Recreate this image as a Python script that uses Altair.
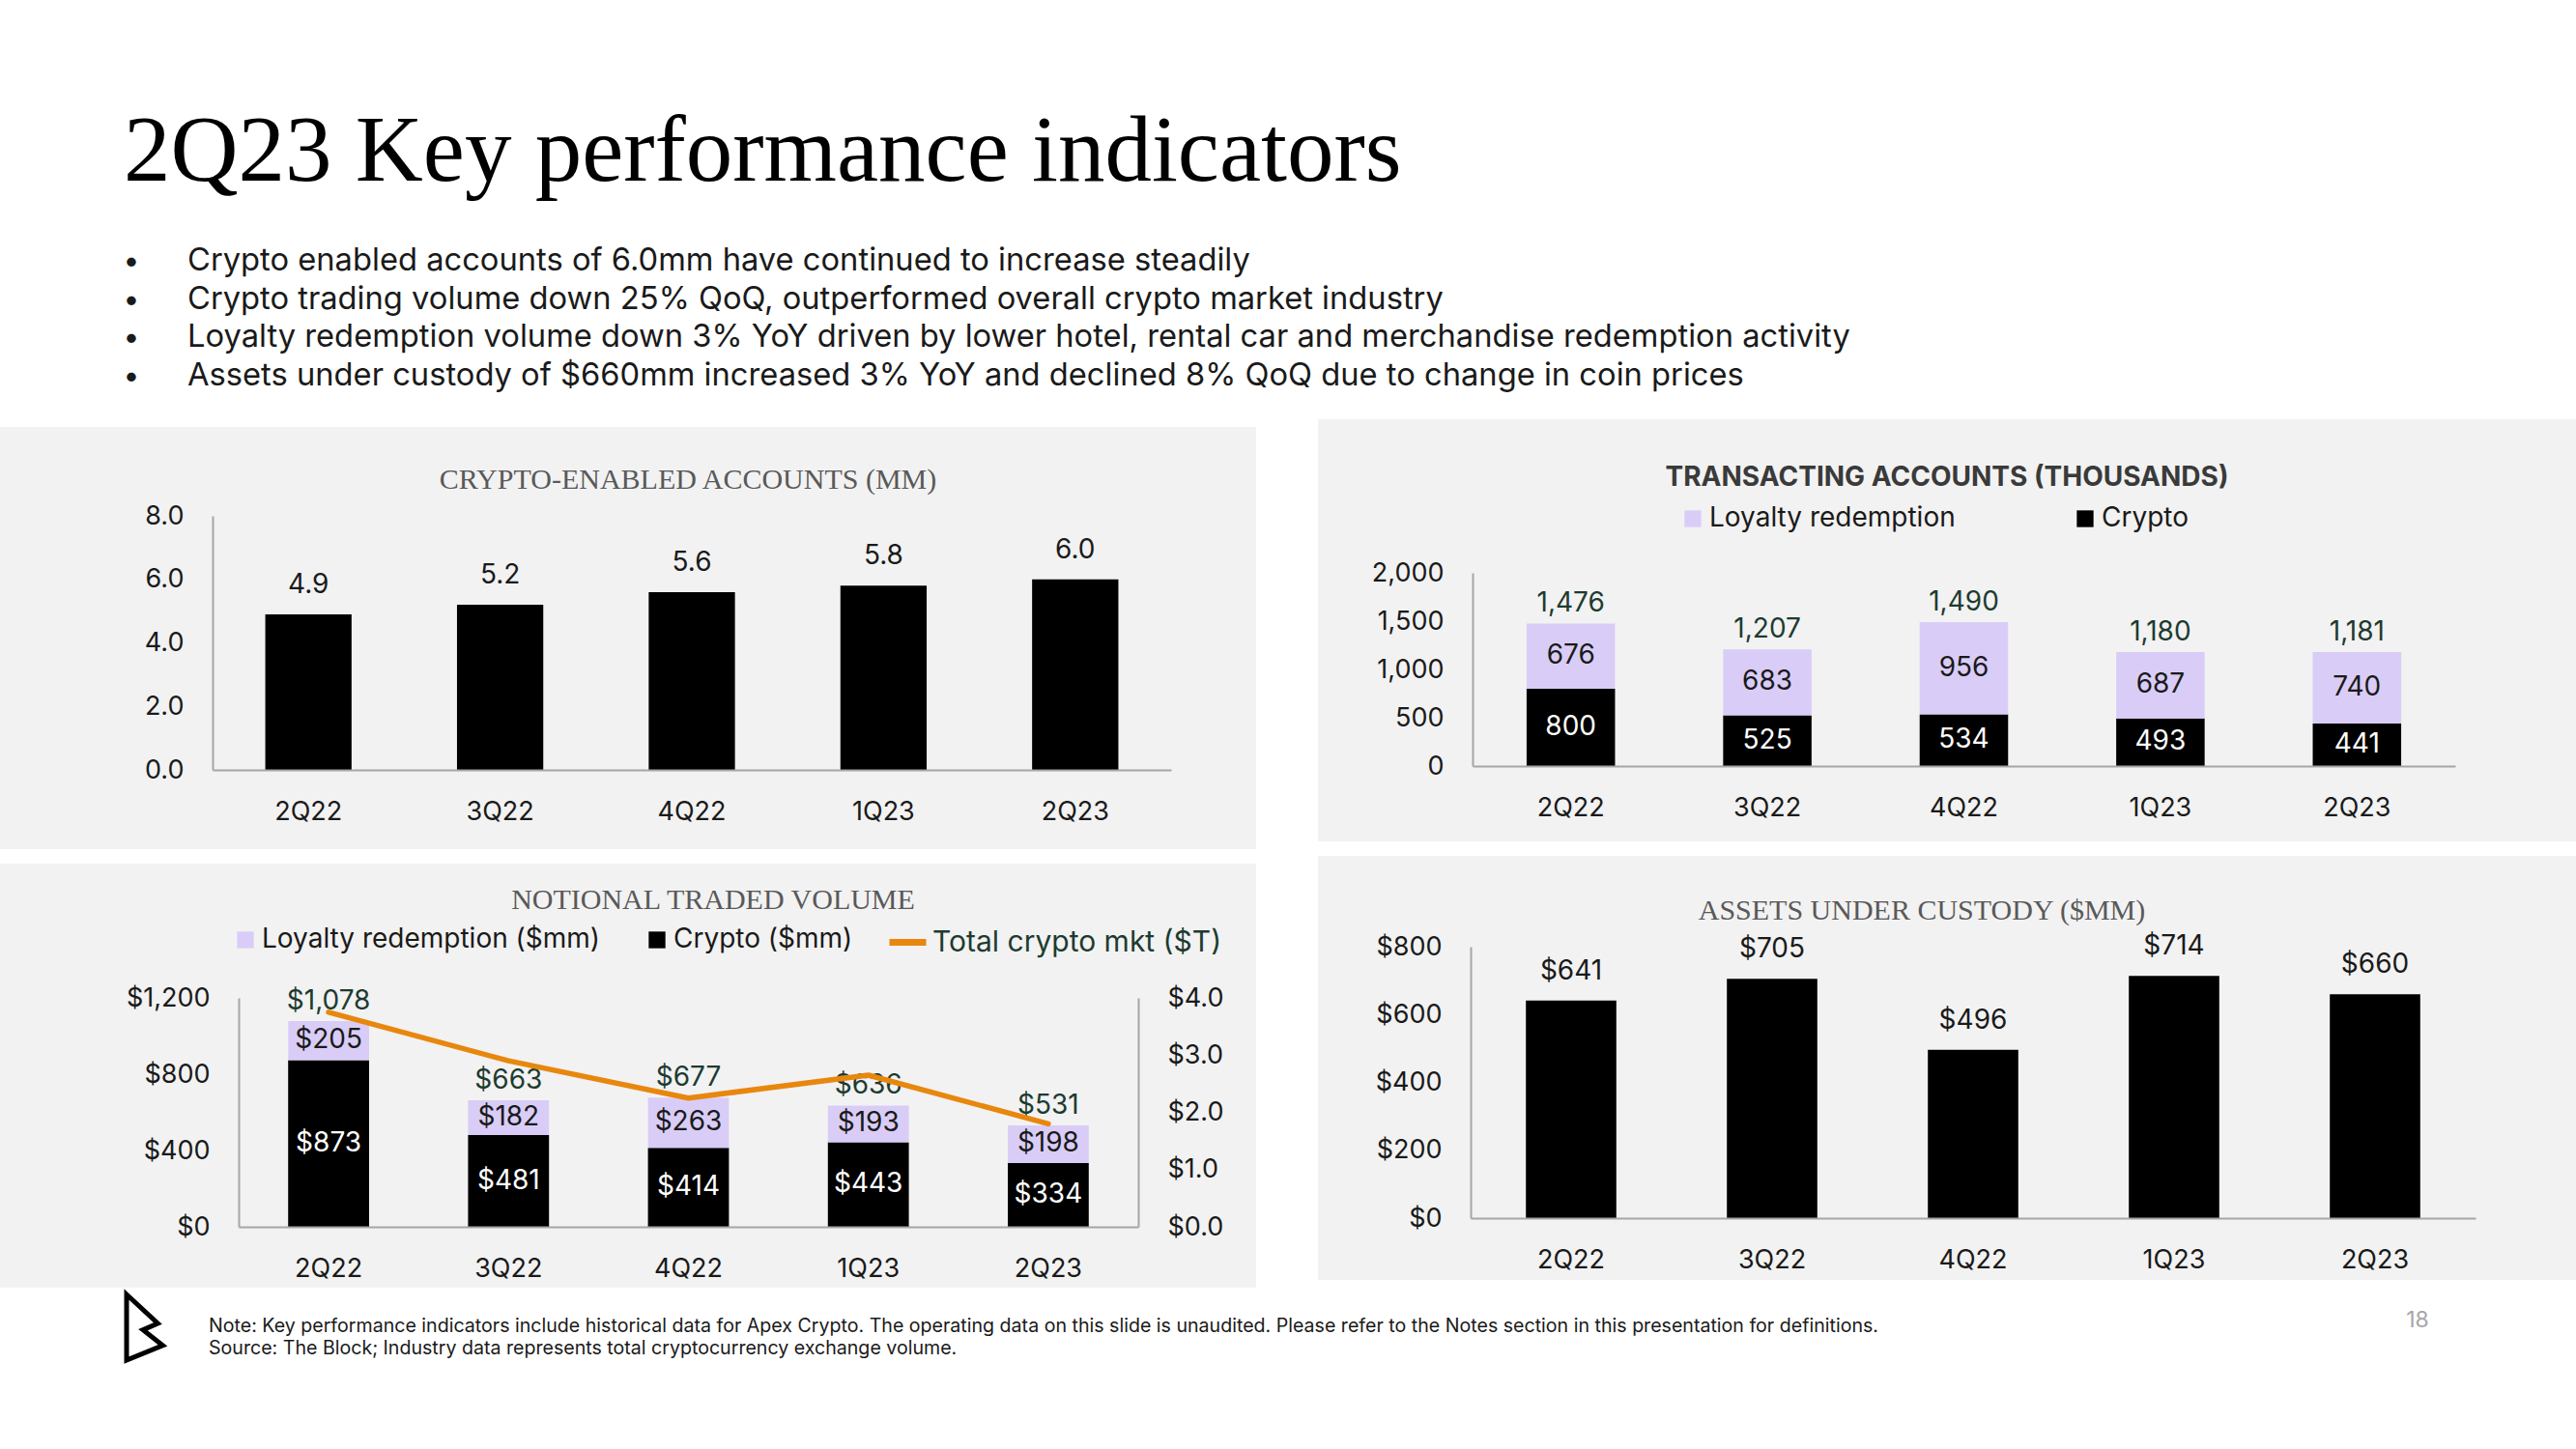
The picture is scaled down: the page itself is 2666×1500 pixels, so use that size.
import altair as alt
import pandas as pd

# ---------------- data ----------------
QUARTERS = ["2Q22", "3Q22", "4Q22", "1Q23", "2Q23"]
ENABLED_MM = [4.9, 5.2, 5.6, 5.8, 6.0]
TX_CRYPTO = [800, 525, 534, 493, 441]
TX_LOYALTY = [676, 683, 956, 687, 740]
TX_TOTAL = [1476, 1207, 1490, 1180, 1181]
NTV_CRYPTO = [873, 481, 414, 443, 334]
NTV_LOYALTY = [205, 182, 263, 193, 198]
NTV_TOTAL = [1078, 663, 677, 636, 531]
MKT_T = [3.75, 2.9, 2.25, 2.65, 1.8]
AUC = [641, 705, 496, 714, 660]

TITLE = "2Q23 Key performance indicators"
BULLETS = [
    "Crypto enabled accounts of 6.0mm have continued to increase steadily",
    "Crypto trading volume down 25% QoQ, outperformed overall crypto market industry",
    "Loyalty redemption volume down 3% YoY driven by lower hotel, rental car and merchandise redemption activity",
    "Assets under custody of $660mm increased 3% YoY and declined 8% QoQ due to change in coin prices",
]
NOTES = [
    "Note: Key performance indicators include historical data for Apex Crypto. The operating data on this slide is unaudited. Please refer to the Notes section in this presentation for definitions.",
    "Source: The Block; Industry data represents total cryptocurrency exchange volume.",
]
PAGE = "18"
P1_TITLE = "CRYPTO-ENABLED ACCOUNTS (MM)"
P2_TITLE = "TRANSACTING ACCOUNTS (THOUSANDS)"
P3_TITLE = "NOTIONAL TRADED VOLUME"
P4_TITLE = "ASSETS UNDER CUSTODY ($MM)"
TX_SEGS = ["Loyalty redemption", "Crypto"]
NTV_SEGS = ["Loyalty redemption ($mm)", "Crypto ($mm)"]
MKT_NAME = "Total crypto mkt ($T)"

# ---------------- style ----------------
SANS = "Inter"
SERIF = "Liberation Serif"
INK = "#1a1a1a"
AXIS_GRAY = "#a6a6a6"
PANEL = "#f2f2f2"
LAV = "#d9cdf7"
ORANGE = "#e8870e"
GREEN = "#1d3b30"
TGRAY = "#595959"
TICK_FS = 27
DATA_FS = 28


def one():
    return pd.DataFrame({"k": [0]})


def rect(x0, x1, y0, y1, color):
    return alt.Chart(one()).mark_rect(color=color).encode(
        x=alt.value(x0), x2=alt.value(x1), y=alt.value(y0), y2=alt.value(y1))


def label(txt, x, y, **kw):
    return alt.Chart(one()).mark_text(**kw).encode(
        x=alt.value(x), y=alt.value(y), text=alt.value(txt))


def x_axis(offset):
    return alt.Axis(orient="bottom", offset=offset, title=None, ticks=False, grid=False,
                    labelAngle=0, labelPadding=30, labelFont=SANS, labelFontSize=TICK_FS,
                    labelColor=INK, domainColor=AXIS_GRAY, domainWidth=2, zindex=1)


def y_axis(offset, values, fmt, orient="left"):
    return alt.Axis(orient=orient, offset=offset, title=None, ticks=False, grid=False,
                    values=values, format=fmt, labelPadding=30, labelFont=SANS,
                    labelFontSize=TICK_FS, labelColor=INK, domainColor=AXIS_GRAY,
                    domainWidth=2, zindex=1)


def xs(r0, r1):
    return alt.Scale(domain=QUARTERS, range=[r0, r1], paddingInner=0.55, paddingOuter=0.275)


def ys(domain, bottom, top):
    return alt.Scale(domain=domain, range=[bottom, top], nice=False, zero=True)


def seg_legend(x, y, gap):
    return alt.Legend(orient="none", legendX=x, legendY=y, direction="horizontal", title=None,
                      symbolType="square", symbolSize=300, symbolStrokeWidth=0,
                      labelFont=SANS, labelFontSize=28, labelColor=INK, labelOffset=3,
                      labelLimit=600, columnPadding=gap, padding=0)


W_L, W_R, H_TOP, H_BOT = 1300, 1302, 437, 439
OY1 = 442  # canvas y of top-left panel origin

# ---------------- panel 1: crypto-enabled accounts ----------------
df1 = pd.DataFrame({"q": QUARTERS, "v": ENABLED_MM})
base1 = alt.Chart(df1).encode(
    x=alt.X("q:N", sort=QUARTERS, scale=xs(220, 1212), axis=x_axis(-82)),
    y=alt.Y("v:Q", scale=ys([0, 8], 355, 92), axis=y_axis(-220, [0, 2, 4, 6, 8], ".1f")),
)
bars1 = base1.mark_bar(color="black")
lab1 = base1.mark_text(dy=-30, font=SANS, fontSize=DATA_FS, color=INK).encode(
    text=alt.Text("v:Q", format=".1f"))

logo_path = "M -0.5 -1 L 0.45 -0.12 L 0.0 0.08 L 0.6 0.55 L -0.5 1 Z"

p1 = alt.layer(
    rect(0, 2666, -OY1, 1500 - OY1, "white"),
    rect(0, W_L, 0, H_TOP, PANEL),
    label(TITLE, 128, 187 - OY1, font=SERIF, fontSize=97, align="left",
          baseline="alphabetic", color="black"),
    label(["\u2022"] * 4, 136, 280 - OY1, font=SANS, fontSize=30, align="center",
          baseline="alphabetic", lineHeight=39.5, color=INK),
    label(BULLETS, 194, 280 - OY1, font=SANS, fontSize=32.7, align="left",
          baseline="alphabetic", lineHeight=39.5, color=INK),
    label(NOTES, 216, 1379 - OY1, font=SANS, fontSize=19.6, align="left",
          baseline="alphabetic", lineHeight=23, color=INK),
    label(PAGE, 2502, 1367 - OY1, font=SANS, fontSize=23, align="center",
          baseline="middle", color="#a6a6a6"),
    alt.Chart(one()).mark_point(shape=logo_path, filled=False, size=4624, strokeWidth=5,
                                color="black", opacity=1).encode(
        x=alt.value(148), y=alt.value(1374 - OY1)),
    label(P1_TITLE, 712, 55, font=SERIF, fontSize=30, align="center", baseline="middle",
          color=TGRAY),
    bars1,
    lab1,
).properties(width=W_L, height=H_TOP)

# ---------------- panel 2: transacting accounts ----------------
rows2 = []
for q, c, l in zip(QUARTERS, TX_CRYPTO, TX_LOYALTY):
    rows2.append({"q": q, "seg": TX_SEGS[1], "v": c, "ord": 0})
    rows2.append({"q": q, "seg": TX_SEGS[0], "v": l, "ord": 1})
df2 = pd.DataFrame(rows2)
stk2 = alt.Chart(df2).transform_stack(
    stack="v", as_=["y0", "y1"], groupby=["q"], sort=[alt.SortField("ord", order="ascending")]
).transform_calculate(ym="(datum.y0 + datum.y1) / 2")
x2 = alt.X("q:N", sort=QUARTERS, scale=xs(160, 1177), axis=x_axis(-86))
y2s = ys([0, 2000], 351, 151)
y2ax = y_axis(-160, [0, 500, 1000, 1500, 2000], ",.0f")
bars2 = stk2.mark_bar().encode(
    x=x2,
    y=alt.Y("y0:Q", scale=y2s, axis=y2ax),
    y2="y1:Q",
    fill=alt.Fill("seg:N", scale=alt.Scale(domain=TX_SEGS, range=[LAV, "black"]),
                  legend=seg_legend(374, 81, 120)),
)
seg2 = stk2.mark_text(font=SANS, fontSize=DATA_FS).encode(
    x=x2, y=alt.Y("ym:Q", scale=y2s, axis=y2ax),
    text=alt.Text("v:Q", format=",.0f"),
    color=alt.Color("seg:N", scale=alt.Scale(domain=TX_SEGS, range=[INK, "white"]), legend=None),
)
dft2 = pd.DataFrame({"q": QUARTERS, "t": TX_TOTAL})
tot2 = alt.Chart(dft2).mark_text(dy=-20, font=SANS, fontSize=DATA_FS, color=GREEN).encode(
    x=x2, y=alt.Y("t:Q", scale=y2s, axis=y2ax), text=alt.Text("t:Q", format=",.0f"))

p2 = alt.layer(
    rect(0, W_R, -8, H_TOP - 8, PANEL),
    label(P2_TITLE, 651, 53, font=SANS, fontSize=28, fontWeight="bold", align="center",
          baseline="middle", color="#3a3a3a"),
    alt.layer(bars2, seg2, tot2),
).properties(width=W_R, height=H_TOP)

# ---------------- panel 3: notional traded volume ----------------
rows3 = []
for q, c, l in zip(QUARTERS, NTV_CRYPTO, NTV_LOYALTY):
    rows3.append({"q": q, "seg": NTV_SEGS[1], "v": c, "ord": 0})
    rows3.append({"q": q, "seg": NTV_SEGS[0], "v": l, "ord": 1})
df3 = pd.DataFrame(rows3)
stk3 = alt.Chart(df3).transform_stack(
    stack="v", as_=["y0", "y1"], groupby=["q"], sort=[alt.SortField("ord", order="ascending")]
).transform_calculate(ym="(datum.y0 + datum.y1) / 2")
x3 = alt.X("q:N", sort=QUARTERS, scale=xs(247, 1178), axis=x_axis(-63))
y3s = ys([0, 1200], 376, 139)
y3ax = y_axis(-247, [0, 400, 800, 1200], "$,.0f")
bars3 = stk3.mark_bar().encode(
    x=x3,
    y=alt.Y("y0:Q", scale=y3s, axis=y3ax),
    y2="y1:Q",
    fill=alt.Fill("seg:N", scale=alt.Scale(domain=NTV_SEGS, range=[LAV, "black"]),
                  legend=seg_legend(240, 65, 44)),
)
seg3 = stk3.mark_text(font=SANS, fontSize=DATA_FS).encode(
    x=x3, y=alt.Y("ym:Q", scale=y3s, axis=y3ax),
    text=alt.Text("v:Q", format="$,.0f"),
    color=alt.Color("seg:N", scale=alt.Scale(domain=NTV_SEGS, range=[INK, "white"]), legend=None),
)
dft3 = pd.DataFrame({"q": QUARTERS, "t": NTV_TOTAL})
tot3 = alt.Chart(dft3).mark_text(dy=-20, font=SANS, fontSize=DATA_FS, color=GREEN).encode(
    x=x3, y=alt.Y("t:Q", scale=y3s, axis=y3ax), text=alt.Text("t:Q", format="$,.0f"))
dfm = pd.DataFrame({"q": QUARTERS, "m": MKT_T, "s": [MKT_NAME] * 5})
line3 = alt.Chart(dfm).mark_line(strokeWidth=5.5, strokeCap="round", strokeJoin="round").encode(
    x=x3,
    y=alt.Y("m:Q", scale=ys([0, 4], 376, 139),
            axis=y_axis(-122, [0, 1, 2, 3, 4], "$.1f", orient="right")),
    stroke=alt.Stroke("s:N", scale=alt.Scale(domain=[MKT_NAME], range=[ORANGE]),
                      legend=alt.Legend(orient="none", legendX=917, legendY=59,
                                        direction="horizontal", title=None,
                                        symbolSize=1444, symbolStrokeWidth=7,
                                        labelFont=SANS, labelFontSize=30, labelColor=GREEN,
                                        labelOffset=3, labelLimit=600, padding=0)),
)
left3 = alt.layer(bars3, seg3, tot3)
p3 = alt.layer(
    rect(0, W_L, 0, H_BOT, PANEL),
    label(P3_TITLE, 738, 38, font=SERIF, fontSize=30, align="center", baseline="middle",
          color=TGRAY),
    left3, line3,
).resolve_scale(y="independent").properties(width=W_L, height=H_BOT)

# ---------------- panel 4: assets under custody ----------------
df4 = pd.DataFrame({"q": QUARTERS, "v": AUC})
base4 = alt.Chart(df4).encode(
    x=alt.X("q:N", sort=QUARTERS, scale=xs(158, 1198), axis=x_axis(-72)),
    y=alt.Y("v:Q", scale=ys([0, 800], 367, 86),
            axis=y_axis(-158, [0, 200, 400, 600, 800], "$,.0f")),
)
bars4 = base4.mark_bar(color="black")
lab4 = base4.mark_text(dy=-30, font=SANS, fontSize=DATA_FS, color=INK).encode(
    text=alt.Text("v:Q", format="$,.0f"))
p4 = alt.layer(
    rect(0, W_R, -8, H_BOT - 8, PANEL),
    label(P4_TITLE, 625, 49, font=SERIF, fontSize=30, align="center", baseline="middle",
          color=TGRAY),
    bars4, lab4,
).properties(width=W_R, height=H_BOT)

chart = alt.concat(
    p1, p2, p3, p4, columns=2, spacing={"row": 15, "column": 64}, bounds="flush"
).resolve_scale(
    x="independent", y="independent", fill="independent", color="independent",
    stroke="independent"
).properties(padding=0, background="white").configure_view(strokeWidth=0)

chart.save("out.html", embed_options={"renderer": "svg", "actions": False})
